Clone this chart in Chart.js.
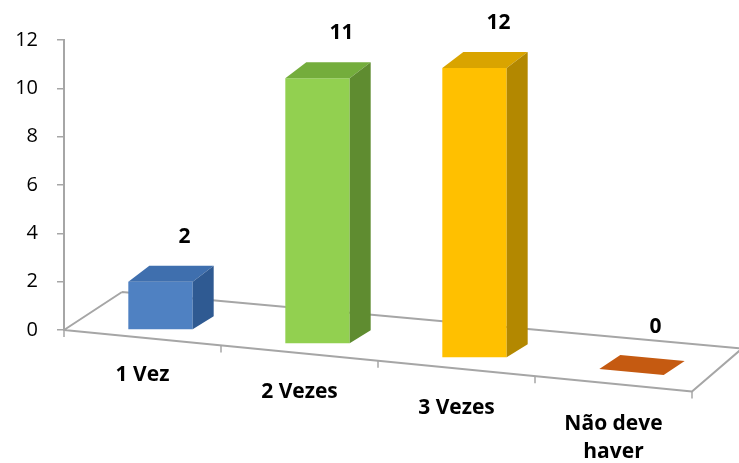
<!DOCTYPE html>
<html>
<head>
<meta charset="utf-8">
<script src="https://cdn.jsdelivr.net/npm/chart.js@4"></script>
<style>
  html, body { margin: 0; padding: 0; background: #fff; }
  #wrap { width: 739px; height: 463px; }
</style>
</head>
<body>
<div id="wrap"><canvas id="chart" width="739" height="463"></canvas></div>
<script>
// data
const categories = [['1 Vez'], ['2 Vezes'], ['3 Vezes'], ['Não deve', 'haver']];
const values = [2, 11, 12, 0];
const yTicks = [0, 2, 4, 6, 8, 10, 12];

// colours for the three visible faces of each box
const frontColors = ['#4f81c2', '#92d050', '#ffc000', '#c55a11'];
const topColors = ['#3f6fae', '#74ad3c', '#d9a400', '#c55a11'];
const sideColors = ['#2f5a92', '#5f8c30', '#b38800', '#a04a0e'];

const GRAY = '#a6a6a6';
const LABEL_FONT = 'bold 21px "Open Sans", sans-serif';
const DEPTH = { x: 21, y: -16 };    // box depth (top/side faces)
const BAR_SLOPE = 0.089;            // floor drops to the right
const FLOOR_SLOPE = 0.098;

function poly(ctx, pts, fill) {
  ctx.beginPath();
  ctx.moveTo(pts[0][0], pts[0][1]);
  for (let k = 1; k < pts.length; k++) ctx.lineTo(pts[k][0], pts[k][1]);
  ctx.closePath();
  ctx.fillStyle = fill;
  ctx.fill();
}

const fake3d = {
  id: 'fake3d',
  afterDatasetsUpdate(chart) {
    const left = chart.chartArea.left;
    chart.getDatasetMeta(0).data.forEach(el => {
      const dy = BAR_SLOPE * (el.x - left) - 7;
      el.x += 18;
      el.y += dy;
      el.base += dy;
    });
  },
  beforeDatasetsDraw(chart) {
    const ctx = chart.ctx;
    const area = chart.chartArea;
    const y0 = chart.scales.y.getPixelForValue(0);
    const x0 = area.left, x1 = area.right;
    const y1 = y0 + FLOOR_SLOPE * (x1 - x0);
    ctx.save();
    ctx.strokeStyle = GRAY;
    ctx.lineWidth = 2;
    ctx.lineJoin = 'round';
    ctx.beginPath();
    ctx.moveTo(x0 + 58, y0 - 38);
    ctx.lineTo(x0, y0);
    ctx.lineTo(x1, y1);
    ctx.lineTo(x1 + 50, y1 - 43);
    ctx.lineTo(x0 + 58, y0 - 38);
    ctx.stroke();
    // category ticks under the front edge
    const step = (x1 - x0) / categories.length;
    ctx.lineWidth = 1.5;
    for (let i = 0; i <= categories.length; i++) {
      const x = x0 + i * step;
      const y = y0 + FLOOR_SLOPE * (x - x0);
      ctx.beginPath();
      ctx.moveTo(x, y);
      ctx.lineTo(x, y + 7);
      ctx.stroke();
    }
    ctx.restore();
  },
  afterDatasetsDraw(chart) {
    const ctx = chart.ctx;
    ctx.save();
    chart.getDatasetMeta(0).data.forEach((el, i) => {
      const l = el.x - el.width / 2, r = el.x + el.width / 2;
      const t = el.y, b = el.base;
      const dx = DEPTH.x, dy = DEPTH.y;
      if (values[i] > 0) {
        poly(ctx, [[l, t], [r, t], [r + dx, t + dy], [l + dx, t + dy]], topColors[i]);
        poly(ctx, [[r, t], [r + dx, t + dy], [r + dx, b + dy + 3], [r, b]], sideColors[i]);
      } else {
        poly(ctx, [[l, b - 3], [r, b + 3], [r + dx, b + 3 + dy + 2], [l + dx, b - 3 + dy + 2]], topColors[i]);
      }
      ctx.font = LABEL_FONT;
      ctx.fillStyle = '#000';
      ctx.textAlign = 'center';
      ctx.textBaseline = 'middle';
      ctx.fillText(String(values[i]), el.x + 24, t + dy - 29);
    });
    ctx.restore();
  },
  afterDraw(chart) {
    const ctx = chart.ctx;
    const xs = chart.scales.x;
    const y0 = chart.scales.y.getPixelForValue(0);
    const left = chart.chartArea.left;
    ctx.save();
    ctx.font = LABEL_FONT;
    ctx.fillStyle = '#000';
    ctx.textAlign = 'center';
    ctx.textBaseline = 'middle';
    categories.forEach((lines, i) => {
      const cx = xs.getPixelForValue(i);
      const cy = y0 + 0.105 * (cx - left) + 36.8;
      lines.forEach((txt, k) => ctx.fillText(txt, cx, cy + k * 28));
    });
    ctx.restore();
  }
};

new Chart(document.getElementById('chart'), {
  type: 'bar',
  data: {
    labels: categories.map(c => c.join(' ')),
    datasets: [{
      data: values,
      backgroundColor: frontColors,
      borderWidth: 0,
      clip: false,
      categoryPercentage: 1,
      barPercentage: 0.41
    }]
  },
  options: {
    responsive: false,
    animation: false,
    events: [],
    layout: { padding: { left: 0, right: 47, top: 40, bottom: 133 } },
    plugins: { legend: { display: false }, tooltip: { enabled: false } },
    scales: {
      x: { display: false, offset: true },
      y: {
        min: 0,
        max: 12,
        afterFit(s) { s.width = 64; },
        afterBuildTicks(s) { s.ticks = yTicks.map(v => ({ value: v })); },
        border: { display: true, color: GRAY, width: 2 },
        grid: { drawOnChartArea: false, drawTicks: true, tickLength: 7, color: GRAY, lineWidth: 1.5 },
        ticks: { color: '#000', padding: 19, font: { family: '"Open Sans", sans-serif', size: 20 } }
      }
    }
  },
  plugins: [fake3d]
});
</script>
</body>
</html>
